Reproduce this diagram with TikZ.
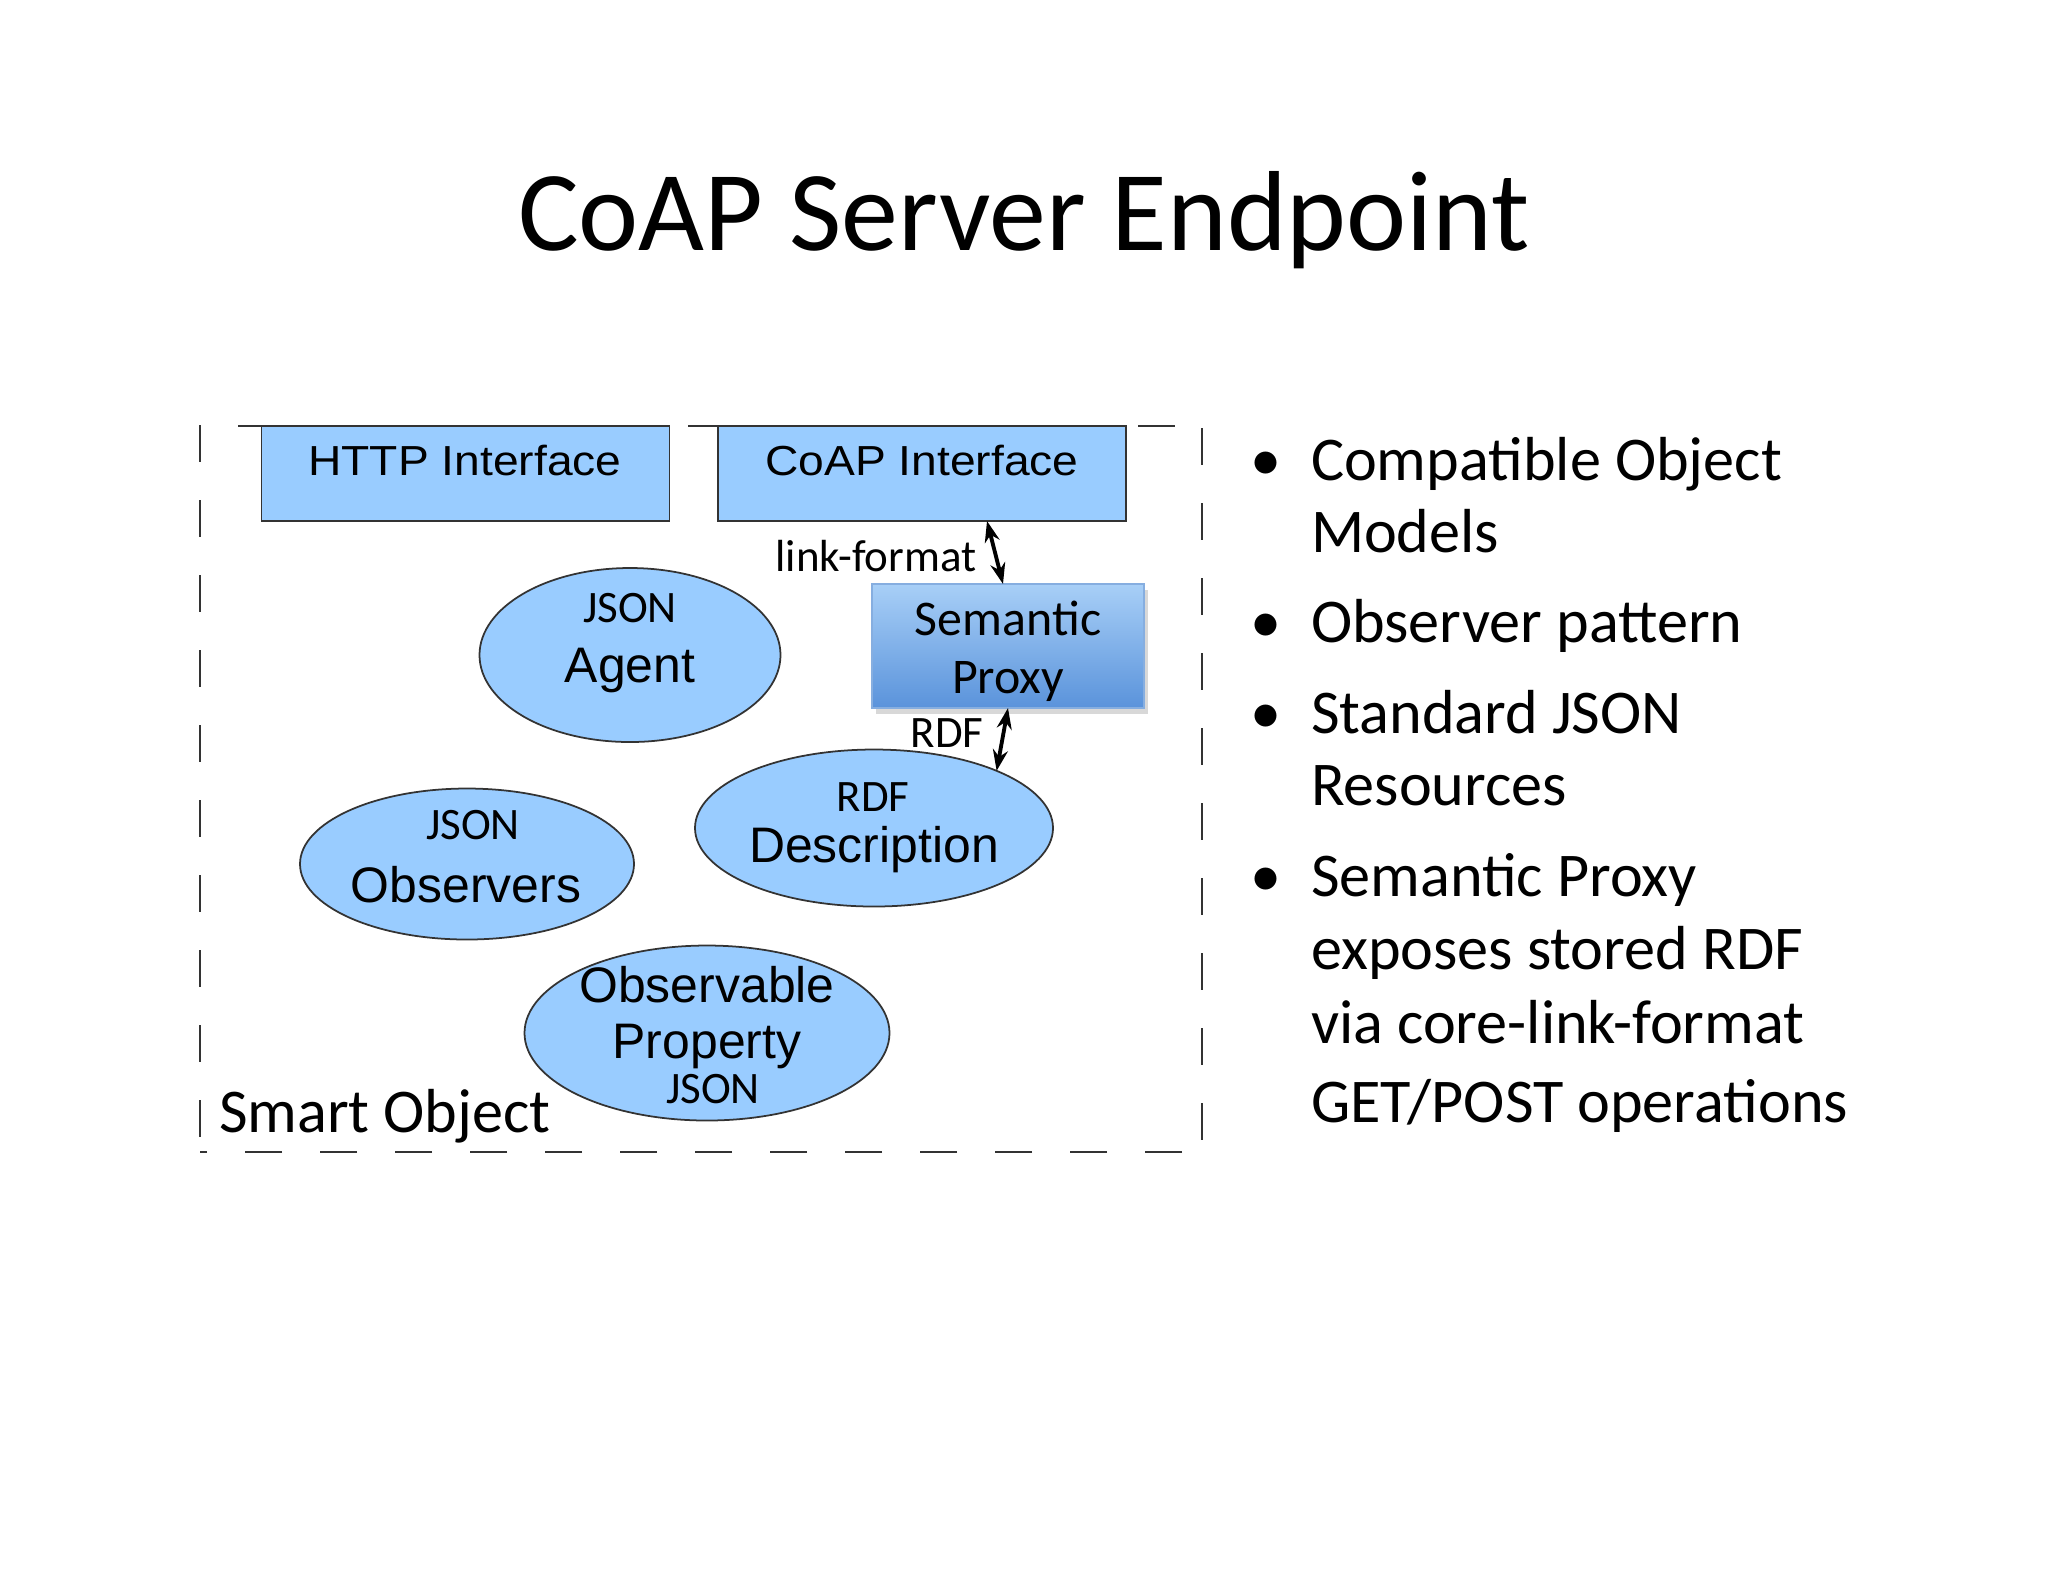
\documentclass[tikz,border=0pt]{standalone}
\usepackage{fontspec}
\setmainfont{Carlito}
\newfontfamily\arialfont{Liberation Sans}
\newfontfamily\ifacefont[FakeStretch=1.1]{Liberation Sans}
\usetikzlibrary{arrows.meta,shapes.geometric,shadows}
\definecolor{bubblue}{HTML}{99CCFF}
\definecolor{proxytop}{HTML}{A8CFF7}
\definecolor{proxybot}{HTML}{5A93DB}
\definecolor{proxyedge}{HTML}{86AEE0}
\definecolor{edgegray}{HTML}{333333}

\begin{document}
\begin{tikzpicture}[x=0.1mm, y=-0.1mm,
  every node/.style={inner sep=0pt, outer sep=0pt},
  ifbox/.style={draw=edgegray, line width=0.5pt, fill=bubblue, minimum width=40.8mm, minimum height=9.5mm},
  bubble/.style={draw=edgegray, line width=0.5pt, fill=bubblue, ellipse},
  frame/.style={edgegray, line width=0.6pt, dash pattern=on 3.7mm off 3.8mm},
  smalltxt/.style={font=\fontsize{12.8}{15}\selectfont, anchor=base},
  bigtxt/.style={font=\arialfont\fontsize{14.2}{17}\selectfont, anchor=base},
  iftxt/.style={font=\ifacefont\fontsize{11.95}{14}\selectfont, anchor=base},
  dot/.style={font=\fontsize{17.7}{21}\selectfont, anchor=base},
  item/.style={font=\fontsize{17.7}{21}\selectfont, anchor=base west},
  link/.style={{Stealth[length=2.1mm,width=1.5mm]}-{Stealth[length=2.1mm,width=1.5mm]}, line width=1.1pt}]
\useasboundingbox[fill=white] (0,0) rectangle (2048,1582);
% title
\node[anchor=base, font=\fontsize{32.4}{38}\selectfont] (title) at (1024,250) {CoAP Server Endpoint};
% smart object frame
\draw[frame] (238,426) -- (1202,426);
\draw[frame] (200,425) -- (200,1152);
\draw[frame] (1202,428) -- (1202,1152);
\draw[frame] (1182,1152) -- (200,1152);
\node[anchor=base west, font=\fontsize{17.7}{21}\selectfont] (smart) at (219,1132) {Smart Object};
% interfaces
\node[ifbox] (http) at (465.5,473.5) {};
\node[ifbox] (coap) at (922,473.5) {};
\node[iftxt] (httptxt) at (465,475) {HTTP Interface};
\node[iftxt] (coaptxt) at (922,475) {CoAP Interface};
% semantic proxy
\node[draw=proxyedge, line width=0.6pt, top color=proxytop, bottom color=proxybot,
      minimum width=27.2mm, minimum height=12.4mm,
      drop shadow={shadow xshift=0.4mm, shadow yshift=-0.6mm, opacity=0.3}] (proxy) at (1008,646) {};
\node[font=\fontsize{14.2}{17}\selectfont, anchor=base] (semtxt) at (1008,635) {Semantic};
\node[font=\fontsize{14.2}{17}\selectfont, anchor=base] (proxytxt) at (1008,693) {Proxy};
% resources
\node[bubble, minimum width=30.1mm, minimum height=17.4mm] (agent) at (630,655) {};
\node[bubble, minimum width=33.4mm, minimum height=15.1mm] (obs) at (467,864) {};
\node[bubble, minimum width=35.8mm, minimum height=15.7mm] (desc) at (874,828) {};
\node[bubble, minimum width=36.5mm, minimum height=17.5mm] (prop) at (707,1033) {};
\node[smalltxt] (agentfmt) at (630,622) {JSON};
\node[bigtxt] (agenttxt) at (630,682) {Agent};
\node[smalltxt] (obsfmt) at (473,839) {JSON};
\node[bigtxt] (obstxt) at (466,902) {Observers};
\node[smalltxt] (descfmt) at (873,811) {RDF};
\node[bigtxt] (desctxt) at (874,862) {Description};
\node[bigtxt] (proptxta) at (707,1002) {Observable};
\node[bigtxt] (proptxtb) at (707,1058) {Property};
\node[smalltxt] (propfmt) at (713,1103) {JSON};
% links
\draw[link] ([xshift=6.5mm]coap.south) -- ([xshift=-0.5mm]proxy.north);
\draw[link] (proxy.south) -- (desc.25);
\node[smalltxt] (linklbl) at (876,571) {link-format};
\node[smalltxt] (rdflbl) at (947,747) {RDF};
% bullets
\node[dot] (d1) at (1266,480) {•};
\node[item] (b1a) at (1311,480) {Compatible Object};
\node[item] (b1b) at (1311,552) {Models};
\node[dot] (d2) at (1266,642) {•};
\node[item] (b2a) at (1311,642) {Observer pattern};
\node[dot] (d3) at (1266,733) {•};
\node[item] (b3a) at (1311,733) {Standard JSON};
\node[item] (b3b) at (1311,805) {Resources};
\node[dot] (d4) at (1266,896) {•};
\node[item] (b4a) at (1311,896) {Semantic Proxy};
\node[item] (b4b) at (1311,969) {exposes stored RDF};
\node[item] (b4c) at (1311,1043) {via core-link-format};
\node[item] (b4d) at (1311,1122) {GET/POST operations};
\end{tikzpicture}
\end{document}
